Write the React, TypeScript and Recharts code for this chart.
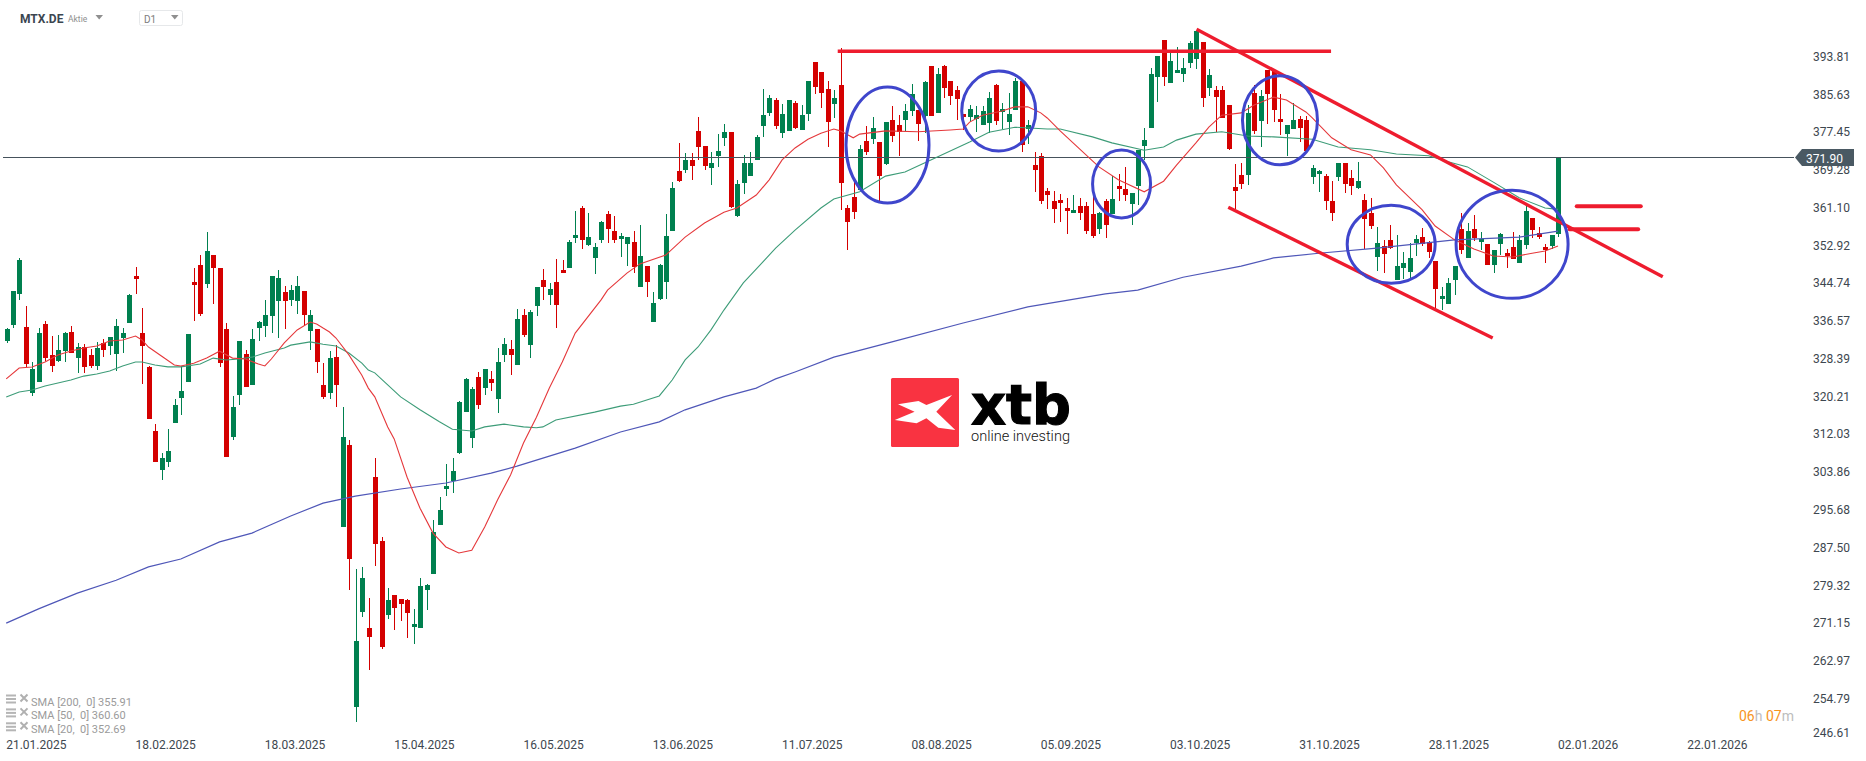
import React from "react";
import { ComposedChart, Bar, Line, XAxis, YAxis, ReferenceLine, ReferenceDot } from "recharts";

const dateLabels = ["21.01.2025","18.02.2025","18.03.2025","15.04.2025","16.05.2025","13.06.2025","11.07.2025","08.08.2025","05.09.2025","03.10.2025","31.10.2025","28.11.2025","02.01.2026","22.01.2026"];
const dateIndices = [0,20,40,60,80,100,120,140,160,180,200,220,240,260];
const priceTicks = [393.81,385.63,377.45,369.28,361.10,352.92,344.74,336.57,328.39,320.21,312.03,303.86,295.68,287.50,279.32,271.15,262.97,254.79,246.61];
const lastPrice = 371.9;

const opens = [
332.1,335.6,342.3,335.1,320.8,323.2,335.8,329.1,327.8,329.9,
334.0,328.4,330.8,329.1,326.7,331.7,331.0,329.3,332.7,336.0,
346.2,333.8,326.5,312.6,304.2,305.9,314.3,319.8,323.2,344.9,
348.6,344.4,350.7,347.9,334.7,311.3,320.4,329.3,322.6,334.9,
335.3,337.5,340.8,342.7,341.0,340.8,342.9,334.3,334.7,322.6,
320.8,328.6,291.8,309.6,252.8,273.4,269.9,302.6,288.8,272.8,
277.1,276.2,276.0,270.2,269.9,278.2,281.6,292.3,300.0,301.8,
307.8,316.7,311.1,324.3,321.9,323.9,319.5,329.1,330.4,326.9,
337.7,331.2,339.7,345.3,342.1,344.9,347.5,347.9,354.4,360.9,
352.9,350.1,354.0,359.6,356.0,354.2,353.1,353.5,343.8,348.3,
336.2,341.2,344.9,356.0,368.9,369.1,371.3,377.6,374.3,369.6,
372.2,376.1,377.4,359.2,366.3,367.8,371.3,378.7,381.5,384.3,
377.2,377.6,383.6,377.8,381.3,392.5,390.3,386.7,383.4,387.5,
360.9,363.3,364.8,375.4,375.8,375.2,370.4,379.9,378.9,379.9,
381.9,382.1,380.8,391.6,381.5,391.6,388.4,386.5,381.3,380.6,
380.2,378.9,379.3,387.5,381.7,379.5,382.1,388.4,378.0,370.2,
372.2,364.6,362.4,362.6,360.9,359.8,361.3,361.3,359.6,356.4,
362.4,359.6,365.7,365.0,361.8,365.7,374.3,378.2,389.3,397.3,
388.0,390.1,389.9,392.3,393.2,396.8,386.9,386.5,386.5,383.2,
365.4,368.0,368.0,385.8,379.7,390.8,390.8,380.2,376.9,378.0,
380.2,379.9,367.6,368.3,367.8,362.4,367.6,370.6,367.4,365.2,
362.6,359.8,350.3,352.7,354.0,345.3,347.9,347.0,353.3,354.6,
353.5,349.4,341.2,340.1,345.3,356.4,350.1,356.4,353.5,353.1,
348.6,353.1,351.1,352.4,349.0,352.9,358.7,355.5,352.4,352.7,355.3];

const highs = [
334.9,342.9,350.1,339.7,327.6,334.9,336.4,333.2,333.4,334.0,
335.3,331.7,331.4,330.4,331.9,332.5,333.0,336.9,334.9,342.3,
348.1,339.2,326.7,314.1,307.8,313.1,319.5,326.7,333.6,347.9,
350.7,355.7,350.7,347.9,336.0,320.2,332.1,330.2,334.7,336.4,
341.0,346.2,347.5,344.0,344.2,346.2,342.9,338.8,334.7,327.3,
329.9,331.2,317.8,310.7,282.7,283.2,276.4,306.8,289.6,278.6,
277.1,276.2,276.2,274.1,280.8,279.5,293.3,298.3,305.5,306.8,
319.1,324.1,322.1,325.4,326.0,325.6,330.6,332.7,332.3,339.0,
339.0,338.8,343.8,347.7,344.7,349.9,349.6,354.0,360.2,361.3,
359.8,353.3,358.1,360.2,359.2,355.5,354.6,356.0,357.2,348.3,
342.7,348.8,359.6,366.5,375.0,372.8,372.8,380.6,374.3,373.0,
376.9,379.1,377.4,367.0,372.4,373.0,376.7,386.7,385.4,384.7,
383.4,384.3,384.1,383.2,388.4,392.5,390.3,388.4,386.5,395.5,
361.5,366.5,374.5,378.7,380.6,375.2,379.5,383.0,381.0,383.4,
387.8,382.1,388.4,391.6,391.2,391.9,388.4,387.3,381.3,383.2,
383.0,383.0,386.0,387.8,383.6,385.8,389.0,388.4,379.9,373.0,
372.8,365.2,364.6,363.9,363.1,363.7,363.1,362.2,363.5,360.0,
362.9,367.8,368.3,369.8,364.1,373.4,378.2,391.2,393.8,397.3,
394.9,395.8,393.4,397.1,399.2,396.8,391.0,387.3,387.3,383.2,
370.4,370.6,383.2,387.5,386.5,390.8,390.8,385.6,378.9,383.6,
380.8,380.8,370.2,369.1,368.3,366.7,370.6,370.6,369.1,370.9,
363.9,363.1,356.8,354.0,357.2,355.1,351.4,353.3,355.1,356.6,
353.8,349.4,343.8,345.7,348.3,359.8,357.7,359.4,355.7,353.1,
351.8,355.5,352.0,355.7,355.1,361.3,358.7,356.8,353.1,355.1,372.0];

const lows = [
331.7,334.9,341.0,326.5,320.2,323.2,327.8,325.4,327.6,327.6,
329.5,325.2,325.2,326.3,325.8,328.6,329.1,325.6,329.5,336.0,
342.3,322.8,315.2,305.9,302.0,304.8,314.3,316.1,323.2,336.4,
337.5,343.6,340.1,326.5,307.0,310.7,318.2,322.1,322.6,332.1,
333.0,333.8,332.7,334.7,339.7,337.9,335.3,330.2,325.2,319.5,
319.5,317.8,291.8,278.2,249.6,272.3,260.9,283.4,265.4,271.9,
269.5,271.5,267.8,266.5,269.9,273.9,281.6,292.3,298.5,299.2,
307.6,316.7,308.9,317.4,320.4,321.3,316.5,327.6,324.7,326.9,
333.0,328.4,337.5,341.0,339.9,334.9,346.8,347.9,353.3,352.0,
352.7,346.6,353.3,353.3,353.3,350.3,348.3,346.8,343.8,341.6,
336.2,341.0,341.2,356.0,366.5,368.5,367.0,371.3,369.1,365.9,
369.8,374.3,360.9,359.0,363.9,367.8,371.3,376.3,380.8,378.0,
376.1,377.6,378.0,377.8,379.7,385.6,382.5,374.1,380.4,360.5,
351.8,358.5,364.8,372.4,374.8,362.2,370.2,375.2,372.2,377.6,
380.8,375.4,377.2,380.8,381.5,384.7,383.2,379.9,377.8,379.5,
377.4,378.9,377.2,378.9,378.0,376.7,382.1,373.0,374.8,364.4,
361.8,360.7,357.6,357.9,355.3,359.8,358.3,355.3,354.4,355.3,
354.4,359.6,362.4,362.4,357.2,361.5,371.3,378.2,383.9,387.3,
388.0,390.1,388.2,391.2,391.0,382.8,385.2,377.4,380.4,373.5,
360.7,365.0,365.9,376.9,374.1,379.1,379.5,376.7,372.2,378.0,
375.2,373.2,366.1,364.4,360.5,358.1,366.7,364.1,363.7,365.0,
352.0,356.4,347.3,346.8,352.0,345.3,345.5,345.5,350.5,352.7,
350.1,339.2,338.8,340.1,342.1,350.9,350.1,353.7,351.8,348.6,
346.8,350.7,347.9,349.9,349.0,352.0,354.4,354.2,349.0,352.0,354.6];

const closes = [
334.7,342.9,349.6,327.1,326.0,333.8,328.4,326.7,330.2,333.8,
329.5,330.8,326.5,326.7,330.6,330.2,333.0,335.3,333.8,342.1,
345.5,331.0,315.2,305.9,306.8,308.3,318.2,321.3,333.6,344.2,
337.9,351.6,347.9,327.3,307.0,317.8,332.1,322.1,332.5,336.2,
337.7,346.2,345.7,340.8,343.1,344.0,337.7,337.7,327.6,320.0,
328.4,322.6,311.3,284.9,267.1,280.8,268.0,288.1,265.8,276.0,
274.3,275.1,273.2,270.8,279.0,279.3,290.7,295.5,300.7,303.9,
318.9,323.9,321.7,318.2,326.0,323.0,327.6,331.4,329.1,336.9,
333.4,338.4,343.8,343.8,343.4,339.9,346.8,353.5,355.1,354.0,
354.6,352.4,357.9,356.4,354.0,354.8,354.6,348.1,350.5,344.9,
340.3,348.6,354.8,365.2,366.7,371.3,370.0,374.1,370.0,370.6,
373.2,377.4,361.1,366.1,370.6,370.6,376.3,381.0,384.7,378.7,
381.3,384.3,378.2,381.0,388.4,387.1,385.8,379.5,384.7,366.3,
357.9,360.0,373.7,373.0,378.2,367.8,379.5,376.5,377.4,381.9,
385.6,379.1,388.2,380.8,389.9,386.9,385.2,384.5,380.6,382.3,
381.0,381.9,384.7,379.7,382.3,381.3,388.4,374.5,378.9,369.1,
362.4,363.7,360.7,362.0,360.2,360.5,359.8,356.0,354.8,359.8,
357.2,362.9,365.0,363.7,364.1,373.4,375.6,389.9,393.8,389.3,
392.7,390.8,391.2,396.6,399.2,384.7,389.7,384.9,380.4,373.7,
364.6,366.1,381.5,377.6,385.2,385.6,382.1,379.5,378.9,379.9,
378.2,373.2,369.6,368.9,362.4,359.8,370.6,366.1,365.7,366.7,
358.5,357.0,353.3,350.9,352.2,348.3,349.0,350.1,354.2,353.1,
351.4,343.4,341.8,344.7,348.3,351.8,356.0,354.4,354.2,348.6,
351.8,355.3,350.5,349.9,354.0,360.2,356.1,354.6,351.8,355.1,371.9];

// Moving averages: [candle index, value].
const sma20 = [[0,323.9],[2,326.25],[4,326.47],[6,327.55],[8,329.07],[10,329.93],[12,330.58],[14,331.02],[16,332.1],[18,332.32],[20,333.18],[21,332.32],[22,330.8],[24,328.85],[26,326.9],[27,326.7],[29,327.3],[31,328.4],[33,329.9],[35,328.4],[37,328.2],[39,327.1],[40,326.7],[41,328.2],[43,331.7],[45,334.5],[47,336.2],[48,335.8],[49,334.9],[50,334.05],[51,332.75],[53,329.1],[55,324.7],[56,321.9],[57,320.0],[59,313.5],[60,310.9],[62,302.6],[64,295.9],[66,290.5],[68,287.5],[70,286.2],[72,286.8],[74,291.8],[76,297.7],[78,303.1],[80,310.0],[82,315.6],[84,321.9],[86,327.55],[88,333.8],[92,341.0],[93,343.1],[96,346.8],[98,348.8],[102,350.7],[105,354.6],[108,357.65],[111,360.0],[113,360.9],[116,363.7],[118,367.0],[120,371.3],[122,373.9],[124,375.8],[126,377.1],[128,378.0],[129,377.6],[131,376.1],[132,376.9],[136,377.6],[141,377.4],[146,377.8],[148,378.0],[149,379.5],[151,381.0],[154,381.9],[156,382.8],[158,382.8],[160,381.5],[161,380.4],[163,377.6],[166,373.7],[169,369.8],[172,367.0],[176,364.4],[179,366.7],[181,370.2],[184,375.0],[186,378.4],[188,381.0],[191,381.5],[193,383.2],[196,384.9],[198,384.3],[201,381.7],[202,380.4],[205,376.1],[208,373.5],[211,372.4],[213,369.6],[215,365.9],[219,360.5],[221,357.0],[224,354.0],[227,352.0],[230,350.5],[233,350.3],[236,351.1],[238,351.6],[240,352.69]];
const sma50 = [[0,319.97],[2,321.06],[4,321.5],[6,322.35],[8,323.0],[10,323.65],[12,324.5],[14,324.95],[16,325.6],[18,326.7],[20,327.55],[21,327.55],[23,326.9],[25,326.5],[27,326.5],[29,326.9],[30,327.1],[32,328.4],[34,328.0],[36,328.2],[38,328.6],[40,329.5],[43,330.6],[44,331.2],[47,331.9],[49,331.4],[51,331.0],[53,329.5],[55,327.3],[56,325.8],[57,325.2],[59,322.6],[61,320.0],[64,317.2],[67,314.6],[69,313.0],[72,312.6],[74,313.5],[77,314.1],[80,313.5],[82,313.3],[83,313.5],[85,315.0],[91,316.7],[95,318.0],[97,318.4],[101,320.2],[103,323.65],[105,328.0],[107,330.8],[109,334.5],[111,338.8],[114,344.7],[117,349.2],[119,352.2],[122,356.1],[126,360.9],[128,362.85],[132,364.4],[136,367.8],[139,368.7],[143,371.3],[149,375.2],[152,377.3],[156,378.4],[161,378.0],[163,378.0],[168,376.3],[171,375.0],[176,373.4],[179,374.1],[181,375.6],[184,376.9],[188,377.4],[192,376.5],[196,376.3],[202,375.8],[206,374.1],[211,373.5],[215,372.6],[220,372.2],[223,370.9],[226,369.8],[230,366.5],[234,363.1],[238,360.9],[240,360.6]];
const sma200 = [[0,271.0],[5,274.1],[11,277.5],[17,280.3],[22,283.2],[27,284.9],[33,288.6],[38,290.5],[44,294.2],[49,297.0],[54,298.5],[61,300.05],[68,301.35],[75,303.5],[79,305.0],[88,308.9],[95,312.4],[101,314.6],[105,317.2],[111,320.0],[116,321.9],[119,323.9],[122,325.4],[128,328.6],[137,331.9],[148,336.0],[158,339.5],[170,342.3],[175,343.1],[182,345.9],[191,348.3],[196,350.1],[203,351.1],[212,352.2],[224,354.0],[234,354.6],[240,355.91]];

// Hand-drawn annotations, placed in candle index / price units.
const resistance = [[128.6,394.83],[204.9,394.83]];
const channelUpper = [[184.1,399.6],[256.2,346.0]];
const channelLower = [[189.0,361.05],[229.9,332.75]];
const targetUpper = [[242.9,361.27],[252.8,361.27]];
const targetLower = [[241.8,356.29],[252.4,356.29]];
const circles = [[136.3,374.54,41.5,58],[153.5,381.9,37,40],[172.5,366.1,29,34],[197.0,379.89,37.5,44.5],[214.2,353.04,44,39],[232.9,353.04,56,54]];

const legendRows = ["SMA [200,  0] 355.91","SMA [50,  0] 360.60","SMA [20,  0] 352.69"];

const SLOTS = 277;
const findV = (arr: number[][], i: number) => { const p = arr.find((r) => r[0] === i); return p ? p[1] : null; };
const rows = Array.from({ length: SLOTS }, (_, i) => ({
  i,
  open: i < opens.length ? opens[i] : null,
  close: i < opens.length ? closes[i] : null,
  range: i < opens.length ? [lows[i], highs[i]] : null,
  s20: findV(sma20, i),
  s50: findV(sma50, i),
  s200: findV(sma200, i),
}));

const UP = "#00804f";
const DOWN = "#d40000";
const INK = "#3d474f";
const FONT = "Roboto, sans-serif";

function Candle(props: any) {
  const { x, y, width, height, payload } = props;
  if (!payload || payload.range == null || height == null) return null;
  const [low, high] = payload.range;
  const { open, close } = payload;
  const toPx = (v: number) => y + ((high - v) / (high - low)) * height;
  const top = toPx(Math.max(open, close));
  const bottom = toPx(Math.min(open, close));
  const color = close >= open ? UP : DOWN;
  const cx = Math.round(x + width / 2);
  return (
    <g shapeRendering="crispEdges">
      <rect x={cx} y={y} width={1} height={height} fill={color} />
      <rect x={cx - 2} y={top} width={5} height={Math.max(bottom - top, 1)} fill={color} />
    </g>
  );
}

function PriceTick(props: any) {
  const { x, y, payload } = props;
  const v = payload.value;
  const lift = v === 246.61 ? -4 : 0;
  return (
    <text x={x + 11} y={y + 4.8 + lift} fontFamily={FONT} fontSize={12} fill={INK}>
      {v.toFixed(2)}
    </text>
  );
}

function DateTick(props: any) {
  const { x, payload } = props;
  const label = dateLabels[dateIndices.indexOf(payload.value)];
  return (
    <text x={x} y={749} fontFamily={FONT} fontSize={12} fill={INK}>
      {label}
    </text>
  );
}

const seg = (s: number[][]) => [{ x: s[0][0], y: s[0][1] }, { x: s[1][0], y: s[1][1] }];

export default function App() {
  return (
    <div style={{ position: "absolute", left: 0, top: 0, width: 1866, height: 761, background: "#fff", overflow: "hidden" }}>
      <ComposedChart width={1866} height={761} data={rows} margin={{ top: 0, right: 0, bottom: 0, left: 3 }} barCategoryGap={0}>
        <XAxis dataKey="i" type="category" ticks={dateIndices} interval={0} height={25.2} axisLine={false} tickLine={false} tick={<DateTick />} />
        <XAxis xAxisId="ann" dataKey="i" type="number" domain={[-0.5, 276.5]} hide allowDataOverflow />
        <YAxis orientation="right" width={72} domain={[246.61, 405.94]} ticks={priceTicks} interval={0} allowDataOverflow axisLine={false} tickLine={false} tick={<PriceTick />} />
        <ReferenceLine y={lastPrice} stroke="#46525c" strokeWidth={1} shapeRendering="crispEdges" />
        <Line dataKey="s200" stroke="#4f57b8" strokeWidth={1.2} dot={false} connectNulls isAnimationActive={false} />
        <Line dataKey="s50" stroke="#3d9c78" strokeWidth={1.1} dot={false} connectNulls isAnimationActive={false} />
        <Line dataKey="s20" stroke="#e5383b" strokeWidth={1.1} dot={false} connectNulls isAnimationActive={false} />
        <Bar dataKey="range" barSize={5} shape={<Candle />} isAnimationActive={false} />
        {[channelUpper, channelLower].map((s, n) => (
          <ReferenceLine key={n} xAxisId="ann" segment={seg(s)} stroke="#ee1c2e" strokeWidth={3.4} ifOverflow="visible" />
        ))}
        {[resistance, targetUpper, targetLower].map((s, n) => (
          <ReferenceLine key={"h" + n} xAxisId="ann" segment={seg(s)} stroke="#ee1c2e" strokeWidth={n === 0 ? 3.4 : 4} strokeLinecap={n === 0 ? "butt" : "round"} ifOverflow="visible" />
        ))}
        {circles.map((c, n) => (
          <ReferenceDot
            key={n}
            xAxisId="ann"
            x={c[0]}
            y={c[1]}
            r={1}
            ifOverflow="visible"
            shape={(p: any) => <ellipse cx={p.cx} cy={p.cy} rx={c[2]} ry={c[3]} fill="none" stroke="#3f46cc" strokeWidth={3} />}
          />
        ))}
      </ComposedChart>

      <svg width={1866} height={761} style={{ position: "absolute", left: 0, top: 0, pointerEvents: "none" }}>
        {/* header */}
        <text x={20} y={22.5} fontFamily={FONT} fontWeight={700} fontSize={12} fill="#3b4650">MTX.DE</text>
        <text x={68} y={22} fontFamily={FONT} fontSize={8.5} fill="#8f8f8f">Aktie</text>
        <polygon points="95.5,15 103,15 99.2,19.5" fill="#8f8f8f" />
        <rect x={139.5} y={10.5} width={43} height={15} rx={2} fill="#fff" stroke="#e6e8ea" />
        <text x={144} y={23} fontFamily={FONT} fontSize={10} fill="#7d7d7d">D1</text>
        <polygon points="171,15 178.5,15 174.8,19.5" fill="#8f8f8f" />

        {/* price tag */}
        <polygon points="1795,157.5 1802,149 1854,149 1854,166 1802,166" fill="#4a5963" />
        <text x={1806} y={163} fontFamily={FONT} fontSize={12} fill="#fff">371.90</text>

        {/* indicator legend */}
        {legendRows.map((t, n) => {
          const y = 701.5 + n * 13.9;
          return (
            <g key={n}>
              <rect x={6} y={y - 7} width={10} height={2} fill="#b5b5b5" />
              <rect x={6} y={y - 3.5} width={10} height={2} fill="#b5b5b5" />
              <rect x={6} y={y} width={10} height={2} fill="#b5b5b5" />
              <path d={`M20.5 ${y - 7}L27.5 ${y}M27.5 ${y - 7}L20.5 ${y}`} stroke="#b0b0b0" strokeWidth={2} />
              <text x={31} y={y + 4} fontFamily={FONT} fontSize={11} fill="#9b9b9b" xmlSpace="preserve">{t}</text>
            </g>
          );
        })}

        {/* countdown */}
        <text x={1739} y={721} fontFamily={FONT} fontSize={14}>
          <tspan fill="#f7941d">06</tspan><tspan fill="#bdbdbd">h </tspan><tspan fill="#f7941d">07</tspan><tspan fill="#bdbdbd">m</tspan>
        </text>

        {/* logo */}
        <rect x={891} y={378} width={68} height={69} rx={1.5} fill="#f93341" />
        <polygon points="898,404.3 918.5,401 926.4,405 952.1,395 936.3,411.7 955.3,430 938.3,427.7 926.4,418.3 916.6,423.3 894.8,420 914.6,411.7" fill="#fff" />
        <text x={971} y={424} fontFamily="'DejaVu Sans', sans-serif" fontWeight={700} fontSize={56} fill="#000" stroke="#000" strokeWidth={1.2} textLength={100} lengthAdjust="spacingAndGlyphs">xtb</text>
        <text x={971} y={441} fontFamily={FONT} fontWeight={300} fontSize={14.5} fill="#111" textLength={99} lengthAdjust="spacingAndGlyphs">online investing</text>
      </svg>
    </div>
  );
}
